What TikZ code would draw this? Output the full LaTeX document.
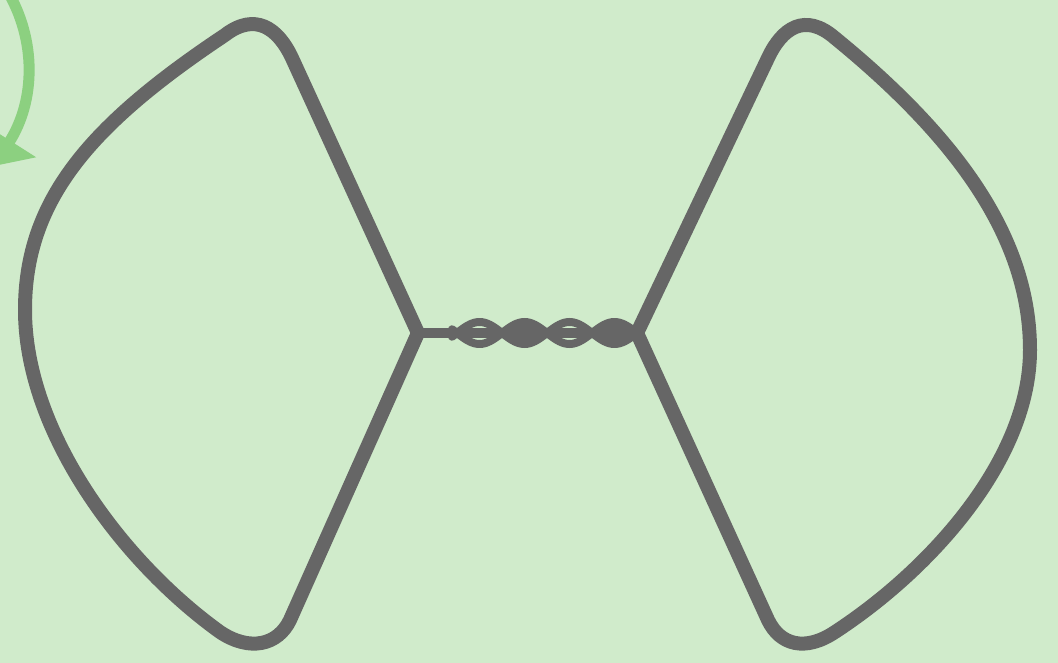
\documentclass[tikz,border=0pt]{standalone}
\usepackage{xcolor}
\usetikzlibrary{arrows.meta}
\definecolor{meadow}{RGB}{208,235,203}
\definecolor{wiregray}{RGB}{102,102,102}
\definecolor{leafgreen}{RGB}{140,208,128}

\begin{document}
\begin{tikzpicture}[
   x=1pt, y=-1pt,
   wire/.style={draw=wiregray, line width=14pt, line join=round, line cap=round},
   twist/.style={draw=wiregray, line width=8pt, line cap=round},
   turn/.style={draw=leafgreen, line width=11pt,
                -{Triangle[length=30pt, width=60pt]}}]

  \useasboundingbox (0,0) rectangle (1058,663);
  \fill[meadow] (0,0) rectangle (1058,663);

  % left lobe
  \draw[wire] (418,333) -- (292,58)
     .. controls (278,28) and (255,12) .. (225,35)
     .. controls (90,125) and (25,200) .. (25,310)
     .. controls (25,430) and (120,560) .. (220,632)
     .. controls (250,652) and (278,645) .. (290,620) -- cycle;

  % right lobe
  \draw[wire] (637,333) -- (768,58)
     .. controls (782,28) and (805,12) .. (835,38)
     .. controls (960,140) and (1030,240) .. (1030,350)
     .. controls (1030,460) and (930,570) .. (835,632)
     .. controls (805,652) and (780,645) .. (768,620) -- cycle;

  % twisted bridge
  \draw[wire, line width=10pt] (418,333) -- (637,333);
  \draw[twist] plot[domain=452:632, samples=90] (\x,{333+11*sin((\x-457)*4)});
  \draw[twist] plot[domain=452:632, samples=90] (\x,{333-11*sin((\x-457)*4)});
  \fill[wiregray] (525,333) ellipse (20 and 13);
  \fill[wiregray] (614,333) ellipse (18 and 13);

  % rotation hint
  \draw[turn] (8,-8) .. controls (36,40) and (36,100) .. (-6,166);
\end{tikzpicture}
\end{document}
